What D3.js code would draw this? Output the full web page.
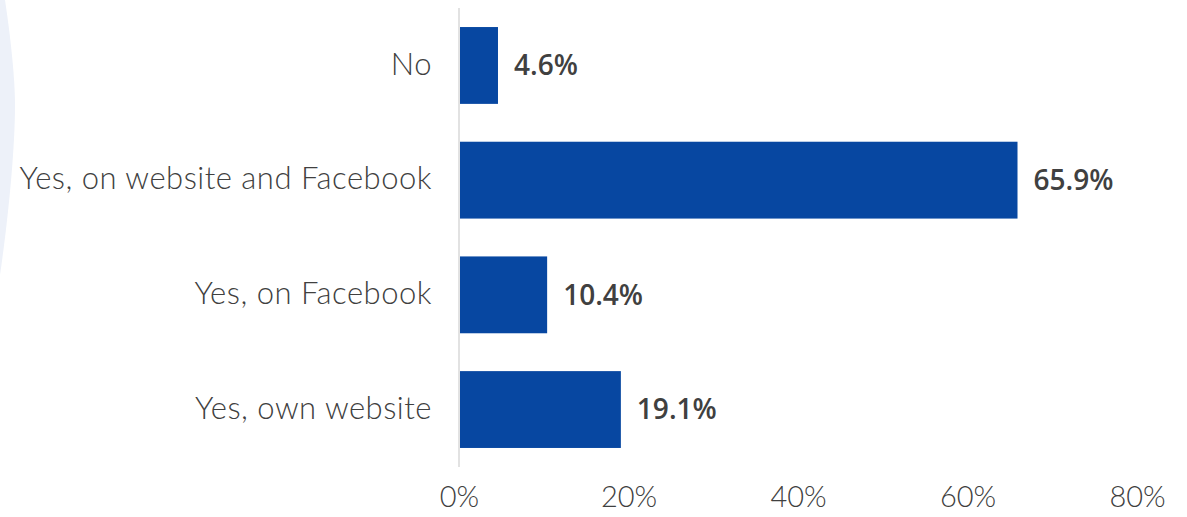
<!DOCTYPE html>
<html>
<head>
<meta charset="utf-8">
<script src="https://cdn.jsdelivr.net/npm/d3@7"></script>
<style>
  body { margin: 0; background: #fff; }
  svg { display: block; }
</style>
</head>
<body>
<div id="chart"></div>
<script>
// data
var categories = ["No", "Yes, on website and Facebook", "Yes, on Facebook", "Yes, own website"];
var values = [4.6, 65.9, 10.4, 19.1];
var tickValues = [0, 20, 40, 60, 80];

var W = 1187, H = 517;

var svg = d3.select("#chart")
  .append("svg")
    .attr("width", W)
    .attr("height", H);

// faint decoration on the left edge
svg.append("path")
    .attr("d", "M0,0 L5,0 C11,40 15,80 15,105 C15,150 8,220 0,275 Z")
    .style("fill", "#edf1f9");

var x = d3.scaleLinear()
    .domain([0, 80])
    .range([459, 1137]);

var y = d3.scaleBand()
    .domain(categories)
    .range([8, 467])
    .paddingInner(0.33)
    .paddingOuter(0.166);

// vertical axis line
svg.append("line")
    .attr("x1", x(0)).attr("x2", x(0))
    .attr("y1", 8).attr("y2", 467)
    .style("stroke", "#d9d9d9")
    .style("stroke-width", 1.5);

// bars
svg.selectAll("rect.bar")
    .data(values)
    .enter()
    .append("rect")
      .attr("class", "bar")
      .attr("x", x(0) + 1)
      .attr("y", function(d, i) { return y(categories[i]); })
      .attr("width", function(d) { return x(d) - x(0) - 1; })
      .attr("height", y.bandwidth())
      .style("fill", "#0747a1");

// value labels
svg.selectAll("text.val")
    .data(values)
    .enter()
    .append("text")
      .attr("class", "val")
      .attr("x", function(d) { return x(d) + 16; })
      .attr("y", function(d, i) { return y(categories[i]) + y.bandwidth() / 2; })
      .attr("dy", "0.35em")
      .text(function(d) { return d.toFixed(1) + "%"; })
      .style("font-family", "'Open Sans', sans-serif")
      .style("font-weight", "600")
      .style("font-size", "28px")
      .style("fill", "#404040");

// category labels
svg.selectAll("text.cat")
    .data(categories)
    .enter()
    .append("text")
      .attr("class", "cat")
      .attr("x", x(0) - 27)
      .attr("y", function(d) { return y(d) + y.bandwidth() / 2; })
      .attr("dy", "0.3em")
      .attr("text-anchor", "end")
      .text(function(d) { return d; })
      .style("font-family", "Lato, sans-serif")
      .style("font-weight", "300")
      .style("font-size", "31px")
      .style("letter-spacing", "0.5px")
      .style("fill", "#404040");

// x axis tick labels
var xAxis = svg.append("g")
    .attr("transform", "translate(0,486)")
    .call(d3.axisBottom(x).tickValues(tickValues).tickSize(0).tickPadding(0)
      .tickFormat(function(d) { return d + "%"; }));
xAxis.select(".domain").remove();
xAxis.selectAll("text")
    .attr("dy", "0.71em")
    .style("font-family", "Lato, sans-serif")
    .style("font-weight", "300")
    .style("font-size", "29px")
    .style("fill", "#404040");
</script>
</body>
</html>
